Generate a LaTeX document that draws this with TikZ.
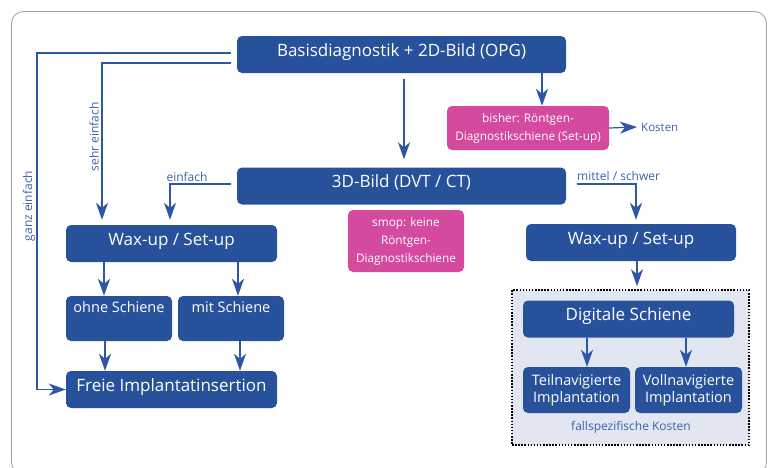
\documentclass[tikz,border=0pt]{standalone}
\usepackage{fontspec}
\setmainfont{Open Sans}
\usetikzlibrary{arrows.meta}

\definecolor{boxblue}{HTML}{27529B}
\definecolor{linkblue}{HTML}{2D57A4}
\definecolor{labelblue}{HTML}{3D61AD}
\definecolor{smoppink}{HTML}{D34A9F}
\definecolor{panelgray}{HTML}{E2E6F1}

\begin{document}
\begin{tikzpicture}[x=1pt,y=-1pt,
	box/.style={rounded corners=5pt, fill=boxblue, text=white, inner sep=2pt, align=center},
	bigbox/.style={box, font=\fontsize{17}{19}\selectfont, inner ysep=7pt, text height=13pt, text depth=10pt},
	smallbox/.style={box, font=\fontsize{14.5}{17}\selectfont},
	pinkbox/.style={rounded corners=5pt, fill=smoppink, text=white, align=center, inner sep=2pt, font=\fontsize{11.8}{18}\selectfont},
	conn/.style={draw=linkblue, line width=1.2pt, -{Stealth[length=17pt,width=12pt,inset=5pt]}},
	lbl/.style={text=labelblue, font=\fontsize{12}{14}\selectfont, inner sep=0pt}]
	\useasboundingbox (0,0) rectangle (770,467);
	\draw [gray!75, line width=0.8pt, rounded corners=12pt] (11.5,11.5) rectangle (766.5,474);

	\node [bigbox, minimum width=329] (basis) at (401.5,54.5) {Basisdiagnostik + 2D-Bild (OPG)};
	\node [bigbox, minimum width=329] (dvt) at (401.5,186) {3D-Bild (DVT / CT)};
	\node [pinkbox, minimum width=162, minimum height=44] (bisher) at (528,128) {bisher: Röntgen-\\Diagnostikschiene (Set-up)};
	\node [lbl, anchor=west, font=\fontsize{11.5}{13}\selectfont] (kosten) at (641,127) {Kosten};
	\node [pinkbox, minimum width=116, minimum height=62] (smop) at (406,241) {smop: keine\\Röntgen-\\Diagnostikschiene};

	\node [bigbox, minimum width=211] (waxL) at (171.5,243.5) {Wax-up / Set-up};
	\node [smallbox, minimum width=106, inner ysep=4pt, text height=12pt, text depth=25pt] (ohne) at (119,318.5) {ohne Schiene};
	\node [smallbox, minimum width=106, inner ysep=4pt, text height=12pt, text depth=25pt] (mit) at (231,318.5) {mit Schiene};
	\node [bigbox, minimum width=211] (freie) at (171.5,389.5) {Freie Implantatinsertion};

	\node [bigbox, minimum width=210] (waxR) at (631,242.5) {Wax-up / Set-up};
	\node [fill=panelgray, draw=black, line width=1.5pt, dash pattern=on 1.5pt off 1.6pt, minimum width=237, minimum height=155] (panel) at (630.5,367.5) {};
	\node [bigbox, minimum width=211] (digi) at (628.5,319) {Digitale Schiene};
	\node [smallbox, minimum width=107, minimum height=46] (teil) at (576.5,390) {Teilnavigierte\\Implantation};
	\node [smallbox, minimum width=107, minimum height=46] (voll) at (688.5,390) {Vollnavigierte\\Implantation};
	\node [lbl] (fall) at (631,427) {fallspezifische Kosten};

	\draw [conn] (basis.south -| 542,0) -- (bisher.north -| 542,0);
	\draw [conn, shorten <=6pt, shorten >=8pt] (basis.south -| 404,0) -- (dvt.north -| 404,0);
	\draw [conn] (bisher.east) -- ([xshift=-4pt]kosten.west);

	\draw [conn, shorten <=6pt] (basis.west |- 0,53) -| (freie.west -| 37,0) -- (freie.west);
	\node [lbl, rotate=90] (ganz) at (29,206) {ganz einfach};
	\draw [conn, shorten <=6pt, shorten >=5pt] (basis.west |- 0,63) -| (waxL.north -| 102,0);
	\node [lbl, rotate=90] (sehr) at (94,137) {sehr einfach};
	\draw [conn, shorten <=6pt, shorten >=5pt] (dvt.west |- 0,184) -| (waxL.north -| 170,0);
	\node [lbl] (einfach) at (187,177) {einfach};
	\draw [conn, shorten <=11pt, shorten >=4pt] (dvt.east |- 0,184) -| (waxR.north -| 636,0);
	\node [lbl, anchor=south west] (mittel) at (577,181) {mittel / schwer};

	\draw [conn] (waxL.south -| 104,0) -- (ohne.north -| 104,0);
	\draw [conn] (waxL.south -| 238,0) -- (mit.north -| 238,0);
	\draw [conn] (ohne.south -| 105,0) -- (freie.north -| 105,0);
	\draw [conn] (mit.south -| 240,0) -- (freie.north -| 240,0);

	\draw [conn, shorten >=3pt] (waxR.south -| 637,0) -- (panel.north -| 637,0);
	\draw [conn] (digi.south -| 587,0) -- (teil.north -| 587,0);
	\draw [conn] (digi.south -| 686,0) -- (voll.north -| 686,0);
\end{tikzpicture}
\end{document}
